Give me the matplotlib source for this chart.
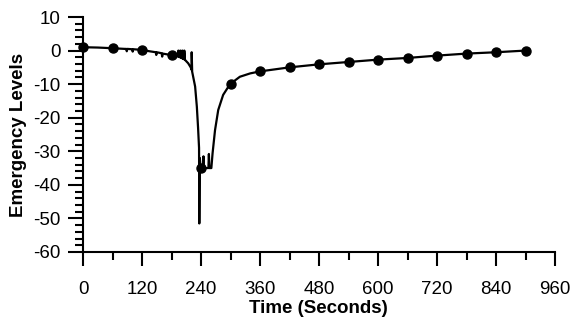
"""Emergency level trace over a 15 minute run."""

import matplotlib
matplotlib.use('Agg')
import matplotlib.pyplot as plt
from matplotlib.ticker import MultipleLocator

plt.rcParams['font.family'] = ['Liberation Sans', 'DejaVu Sans']
plt.rcParams['axes.unicode_minus'] = False

# full trace (seconds, level), incl. the switching spikes around the event
t_trace = [0, 30, 60, 85, 88, 89, 90, 100, 101, 102, 120, 135, 148, 149, 150,
           160, 161, 162, 170, 180, 190,
           194, 194, 195, 198, 198, 199, 202, 202, 203, 206, 206, 207,
           214, 219, 221, 221, 222, 225, 228, 231.5, 234, 236, 236.5, 237.5,
           239, 240, 244, 245, 246, 255, 256, 257, 261,
           263.5, 268.5, 275, 285, 299, 319, 340, 360, 390,
           420, 480, 540, 600, 660, 720, 780, 840, 900]
level_trace = [1.0, 0.9, 0.7, 0.5, 0.5, -0.2, 0.5, 0.4, -0.3, 0.4, 0.2, -0.2, -0.5, -1.3, -0.5,
               -0.8, -1.8, -0.9, -1.1, -1.4, -1.6,
               -1.8, 0.0, -1.9, -2.0, 0.0, -2.1, -2.3, 0.0, -2.4, -2.6, 0.0, -2.7,
               -3.8, -5.0, -5.8, -0.5, -6.3, -8.5, -10.7, -16.7, -23.0, -29.0, -51.5, -32.0,
               -34.5, -35.0, -35.0, -31.5, -35.0, -35.0, -30.8, -35.0, -35.0,
               -30.6, -23.7, -17.7, -13.2, -10.0, -7.8, -6.8, -6.2, -5.6,
               -5.0, -4.1, -3.4, -2.7, -2.2, -1.5, -0.9, -0.5, 0.0]

# sampled levels, one per minute
t_marks = [0, 60, 120, 180, 240, 300, 360, 420, 480, 540, 600, 660, 720, 780, 840, 900]
level_marks = [1.0, 0.7, 0.2, -1.4, -35.0, -10.0, -6.2, -5.0, -4.1, -3.4, -2.7, -2.2,
               -1.5, -0.9, -0.5, 0.0]

x_ticks = [0, 120, 240, 360, 480, 600, 720, 840, 960]
y_ticks = [-60, -50, -40, -30, -20, -10, 0, 10]

fig = plt.figure(figsize=(5.71, 3.22), dpi=100)
ax = fig.add_axes([0.1454, 0.2174, 0.8266, 0.7298])

ax.plot(t_trace, level_trace, color='black', lw=1.6, clip_on=False)
ax.plot(t_marks, level_marks, 'o', color='black', ms=6.5, clip_on=False)

ax.set_xlim(0, 960)
ax.set_ylim(-60, 10)
ax.set_xticks(x_ticks)
ax.set_yticks(y_ticks)
ax.xaxis.set_minor_locator(MultipleLocator(60))
ax.yaxis.set_minor_locator(MultipleLocator(2))

for side in ('top', 'right'):
    ax.spines[side].set_visible(False)
for side in ('left', 'bottom'):
    ax.spines[side].set_linewidth(1.5)

ax.tick_params(axis='x', which='major', length=10, width=1.5, pad=11, labelsize=13.5)
ax.tick_params(axis='x', which='minor', length=6, width=1.5)
ax.tick_params(axis='y', which='major', length=11, width=1.5, pad=5, labelsize=13.5)
ax.tick_params(axis='y', which='minor', length=6, width=1.5)

ax.set_xlabel('Time (Seconds)', fontsize=13.5, fontweight='bold')
ax.set_ylabel('Emergency Levels', fontsize=13.5, fontweight='bold')
ax.xaxis.set_label_coords(0.498, -0.205)
ax.yaxis.set_label_coords(-0.118, 0.5)

fig.savefig('out.png', dpi=100)
plt.close(fig)
